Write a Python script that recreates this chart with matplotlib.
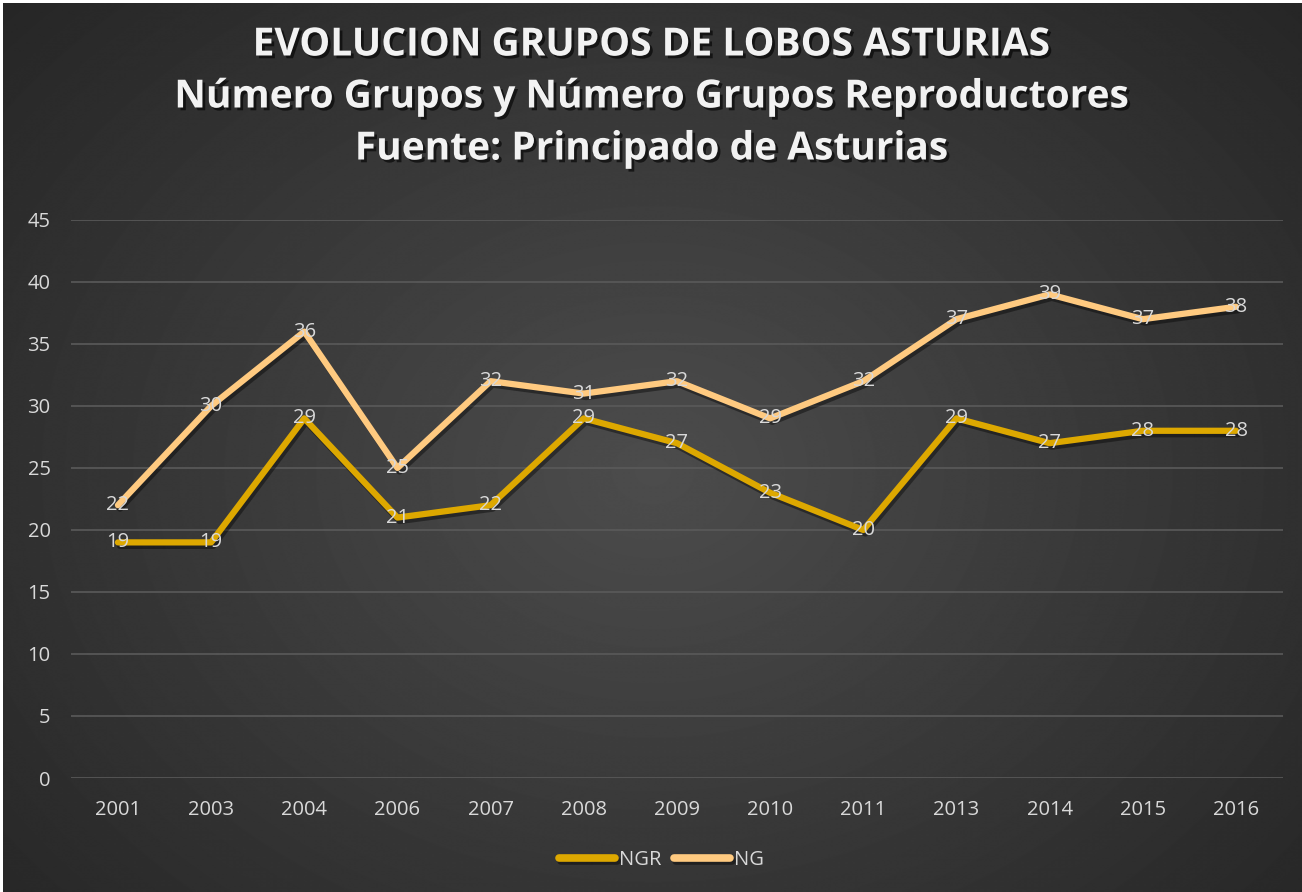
import matplotlib.pyplot as plt
import matplotlib.patheffects as pe
import numpy as np

years = ['2001', '2003', '2004', '2006', '2007', '2008', '2009',
         '2010', '2011', '2013', '2014', '2015', '2016']
ngr = [19, 19, 29, 21, 22, 29, 27, 23, 20, 29, 27, 28, 28]
ng = [22, 30, 36, 25, 32, 31, 32, 29, 32, 37, 39, 37, 38]

plt.rcParams['font.family'] = ['Open Sans', 'DejaVu Sans']

fig = plt.figure(figsize=(13.02, 8.92), dpi=100, facecolor='white')

# fondo con degradado radial (deja un borde blanco fino arriba e izquierda)
bg = fig.add_axes([3 / 1302, 0, 1 - 3 / 1302, 1 - 3 / 892], zorder=0)
yy, xx = np.mgrid[0:892, 0:1302]
r = np.sqrt(((xx - 651) / 760.0) ** 2 + ((yy - 470) / 600.0) ** 2)
val = np.clip(0.30 - 0.13 * r, 0.15, 0.30)
bg.imshow(val, cmap='gray', vmin=0, vmax=1, aspect='auto', interpolation='bilinear')
bg.axis('off')

ax = fig.add_axes([0.0548, 0.1278, 0.9303, 0.6256], zorder=1)
ax.patch.set_alpha(0)
x = np.arange(len(years))

shadow = [pe.SimpleLineShadow(offset=(1.5, -2.5), shadow_color='black', alpha=0.4), pe.Normal()]
ax.plot(x, ngr, color='#DDA800', lw=4.5, solid_capstyle='round', solid_joinstyle='round',
        label='NGR', path_effects=shadow, zorder=3)
ax.plot(x, ng, color='#FFCA80', lw=4.5, solid_capstyle='round', solid_joinstyle='round',
        label='NG', path_effects=shadow, zorder=4)

for xi, v in zip(x, ngr):
    ax.text(xi, v, str(v), ha='center', va='center', color='#D9D9D9', fontsize=14.5, zorder=5)
for xi, v in zip(x, ng):
    ax.text(xi, v, str(v), ha='center', va='center', color='#D9D9D9', fontsize=14.5, zorder=5)

ax.set_xlim(-0.5, len(years) - 0.5)
ax.set_ylim(0, 45)
ax.set_yticks(range(0, 46, 5))
ax.set_xticks(x)
ax.set_xticklabels(years)
ax.grid(axis='y', color='#5A5A5A', lw=1.2)
ax.set_axisbelow(True)
for s in ax.spines.values():
    s.set_visible(False)
ax.tick_params(length=0, colors='#D9D9D9', labelsize=14.5)
ax.tick_params(axis='x', pad=16)
ax.tick_params(axis='y', pad=15)

title_fx = [pe.withSimplePatchShadow(offset=(2, -2), shadow_rgbFace='black', alpha=0.6)]
lines = ['EVOLUCION GRUPOS DE LOBOS ASTURIAS',
         'Número Grupos y Número Grupos Reproductores',
         'Fuente: Principado de Asturias']
for i, t in enumerate(lines):
    fig.text(0.5, 1 - (45 + 52 * i) / 892, t, ha='center', va='center', color='#F2F2F2',
             fontsize=28, fontweight='bold', path_effects=title_fx)

leg = fig.legend(loc='center', bbox_to_anchor=(0.508, 1 - 860 / 892), ncol=2, frameon=False,
                 fontsize=14.5, handlelength=2.8, columnspacing=0.6, handletextpad=0.2)
for h in leg.get_lines():
    h.set_linewidth(5.5)
    h.set_solid_capstyle('round')
for t in leg.get_texts():
    t.set_color('#D9D9D9')

fig.savefig('out.png', dpi=100, facecolor='white')
